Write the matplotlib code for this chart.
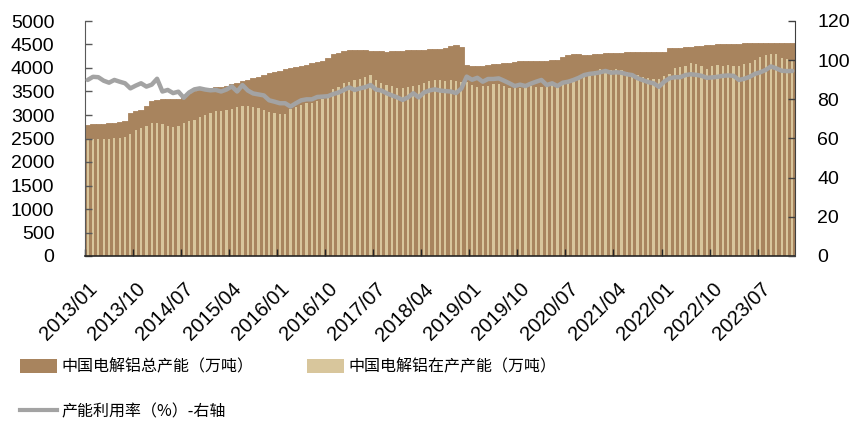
import numpy as np
import matplotlib
matplotlib.use('Agg')
import matplotlib.pyplot as plt
from matplotlib.patches import Patch
from matplotlib.lines import Line2D

# China electrolytic aluminium: total capacity, operating capacity (10k t), utilisation (%)
total = [2790, 2800, 2805, 2815, 2825, 2840, 2850, 2870, 3050, 3080,
         3110, 3200, 3290, 3320, 3330, 3330, 3335, 3340, 3400, 3460,
         3500, 3530, 3560, 3580, 3590, 3600, 3620, 3660, 3690, 3720,
         3750, 3780, 3810, 3850, 3900, 3920, 3930, 3980, 4010, 4030,
         4050, 4070, 4100, 4120, 4150, 4220, 4290, 4320, 4360, 4390,
         4390, 4380, 4380, 4370, 4370, 4360, 4350, 4360, 4370, 4370,
         4380, 4390, 4390, 4390, 4400, 4410, 4400, 4430, 4460, 4480,
         4450, 4060, 4050, 4045, 4050, 4060, 4080, 4095, 4110, 4115,
         4130, 4140, 4150, 4150, 4150, 4150, 4150, 4160, 4165, 4230,
         4270, 4290, 4300, 4285, 4280, 4295, 4300, 4310, 4310, 4320,
         4325, 4330, 4330, 4335, 4335, 4340, 4340, 4345, 4345, 4420,
         4425, 4435, 4445, 4455, 4465, 4475, 4485, 4490, 4500, 4505,
         4510, 4515, 4520, 4525, 4530, 4530, 4530, 4530, 4530, 4530,
         4530, 4530, 4530]

operating = [2500, 2500, 2500, 2500, 2500, 2505, 2510, 2530, 2600, 2680,
             2716, 2760, 2830, 2837, 2800, 2766, 2752, 2766, 2830, 2870,
             2900, 2950, 2990, 3040, 3085, 3095, 3106, 3130, 3160, 3191,
             3191, 3160, 3150, 3110, 3071, 3040, 3030, 3030, 3120, 3170,
             3213, 3248, 3262, 3290, 3340, 3390, 3546, 3603, 3674, 3709,
             3745, 3760, 3800, 3851, 3745, 3688, 3638, 3610, 3582, 3582,
             3589, 3617, 3638, 3688, 3723, 3745, 3745, 3730, 3745, 3720,
             3700, 3700, 3630, 3600, 3617, 3620, 3660, 3660, 3610, 3570,
             3567, 3567, 3589, 3617, 3603, 3600, 3650, 3640, 3660, 3690,
             3710, 3745, 3800, 3860, 3920, 3945, 3970, 3960, 3965, 3975,
             3960, 3920, 3880, 3850, 3810, 3790, 3770, 3770, 3830, 3870,
             3990, 4030, 4050, 4100, 4090, 4050, 3980, 4050, 4070, 4050,
             4065, 4050, 4050, 4095, 4100, 4160, 4240, 4280, 4300, 4300,
             4210, 4190, 4175]

utilization = [89.9, 91.5, 91.3, 89.5, 88.5, 89.9, 89.0, 88.2, 85.6, 87.0,
               88.2, 86.5, 87.5, 90.5, 84.0, 84.8, 83.2, 83.9, 80.8, 83.5,
               85.1, 85.6, 85.0, 84.6, 84.8, 84.0, 85.0, 86.6, 84.0, 87.3,
               84.5, 83.0, 82.5, 82.0, 79.5, 78.8, 78.0, 78.0, 76.3, 78.0,
               79.5, 80.0, 80.0, 81.2, 81.4, 81.6, 82.7, 83.5, 84.8, 86.1,
               84.8, 85.6, 86.2, 87.3, 85.0, 84.5, 83.1, 82.0, 81.0, 79.7,
               81.0, 83.1, 81.0, 83.5, 84.5, 85.1, 84.5, 84.2, 84.0, 83.2,
               85.5, 91.6, 90.0, 91.0, 89.0, 90.4, 90.4, 90.7, 89.5, 88.2,
               86.8, 87.5, 86.8, 88.0, 89.0, 89.9, 87.3, 88.2, 86.8, 88.5,
               89.0, 89.9, 91.0, 92.4, 93.0, 93.3, 93.8, 94.5, 93.6, 93.8,
               93.6, 92.8, 92.4, 90.8, 89.8, 88.8, 88.2, 86.4, 89.0, 90.8,
               91.3, 91.3, 92.4, 92.8, 92.5, 92.0, 91.0, 91.2, 91.5, 92.0,
               92.2, 92.0, 89.9, 90.5, 91.5, 93.0, 93.8, 95.0, 96.8, 95.8,
               94.6, 94.4, 94.5]

tick_labels = ['2013/01', '2013/10', '2014/07', '2015/04', '2016/01',
               '2016/10', '2017/07', '2018/04', '2019/01', '2019/10',
               '2020/07', '2021/04', '2022/01', '2022/10', '2023/07']

label_total = '中国电解铝总产能（万吨）'
label_oper = '中国电解铝在产产能（万吨）'
label_util = '产能利用率（%）-右轴'

dark = '#A8845E'
light = '#D8C69C'
grey = '#A3A3A3'

plt.rcParams['font.family'] = ['Liberation Sans', 'DejaVu Sans']
cjk = ['Noto Sans CJK SC', 'DejaVu Sans']

W, H = 856, 422
fig = plt.figure(figsize=(W / 100, H / 100), dpi=100)
ax = fig.add_axes([85 / W, 1 - 256 / H, 710 / W, 235 / H])

n = len(total)
x = np.arange(n)
ax.bar(x, total, width=1.0, color=dark, edgecolor=dark, linewidth=0.6, zorder=1)
ax.bar(x, operating, width=0.42, color=light, linewidth=0, zorder=1.5)
ax.set_xlim(-0.5, n - 0.5)
ax.set_ylim(0, 5000)
ax.set_yticks(np.arange(0, 5001, 500))

step = 9
ax.set_xticks(np.arange(0, step * len(tick_labels), step))
ax.set_xticklabels(tick_labels, rotation=45, ha='right', rotation_mode='anchor', fontsize=14.5)
ax.tick_params(axis='x', which='major', length=0, pad=17)
ax.set_xticks(np.arange(-0.5, n, step), minor=True)
ax.tick_params(axis='x', which='minor', direction='in', length=5, width=1, color='#262626')
ax.tick_params(axis='y', direction='in', length=5, width=1, color='#595959', labelsize=14, pad=22)

for s in ['top', 'right']:
    ax.spines[s].set_visible(False)
ax.spines['left'].set_color('#595959')
ax.spines['bottom'].set_color('#262626')
ax.spines['bottom'].set_linewidth(1.2)

ax2 = ax.twinx()
ax2.plot(x, utilization, color=grey, lw=3.2, solid_joinstyle='round', solid_capstyle='round')
ax2.set_ylim(0, 120)
ax2.set_yticks(np.arange(0, 121, 20))
ax2.tick_params(axis='y', direction='in', length=5, width=1, color='#404040', labelsize=14, pad=16)
for s in ['top', 'left', 'bottom']:
    ax2.spines[s].set_visible(False)
ax2.spines['right'].set_color('#404040')

leg_kw = dict(loc='center left', frameon=False, borderpad=0, borderaxespad=0,
              handlelength=2.3, handleheight=1.0, handletextpad=0.3,
              prop={'family': cjk, 'size': 11.5})
fig.legend(handles=[Patch(facecolor=dark, edgecolor='none')], labels=[label_total],
           bbox_to_anchor=(20 / W, 1 - 367 / H), **leg_kw)
fig.legend(handles=[Patch(facecolor=light, edgecolor='none')], labels=[label_oper],
           bbox_to_anchor=(307 / W, 1 - 367 / H), **leg_kw)
fig.legend(handles=[Line2D([0], [0], color=grey, lw=3)], labels=[label_util],
           bbox_to_anchor=(20 / W, 1 - 412 / H), **leg_kw)

fig.savefig('out.png', dpi=100)
